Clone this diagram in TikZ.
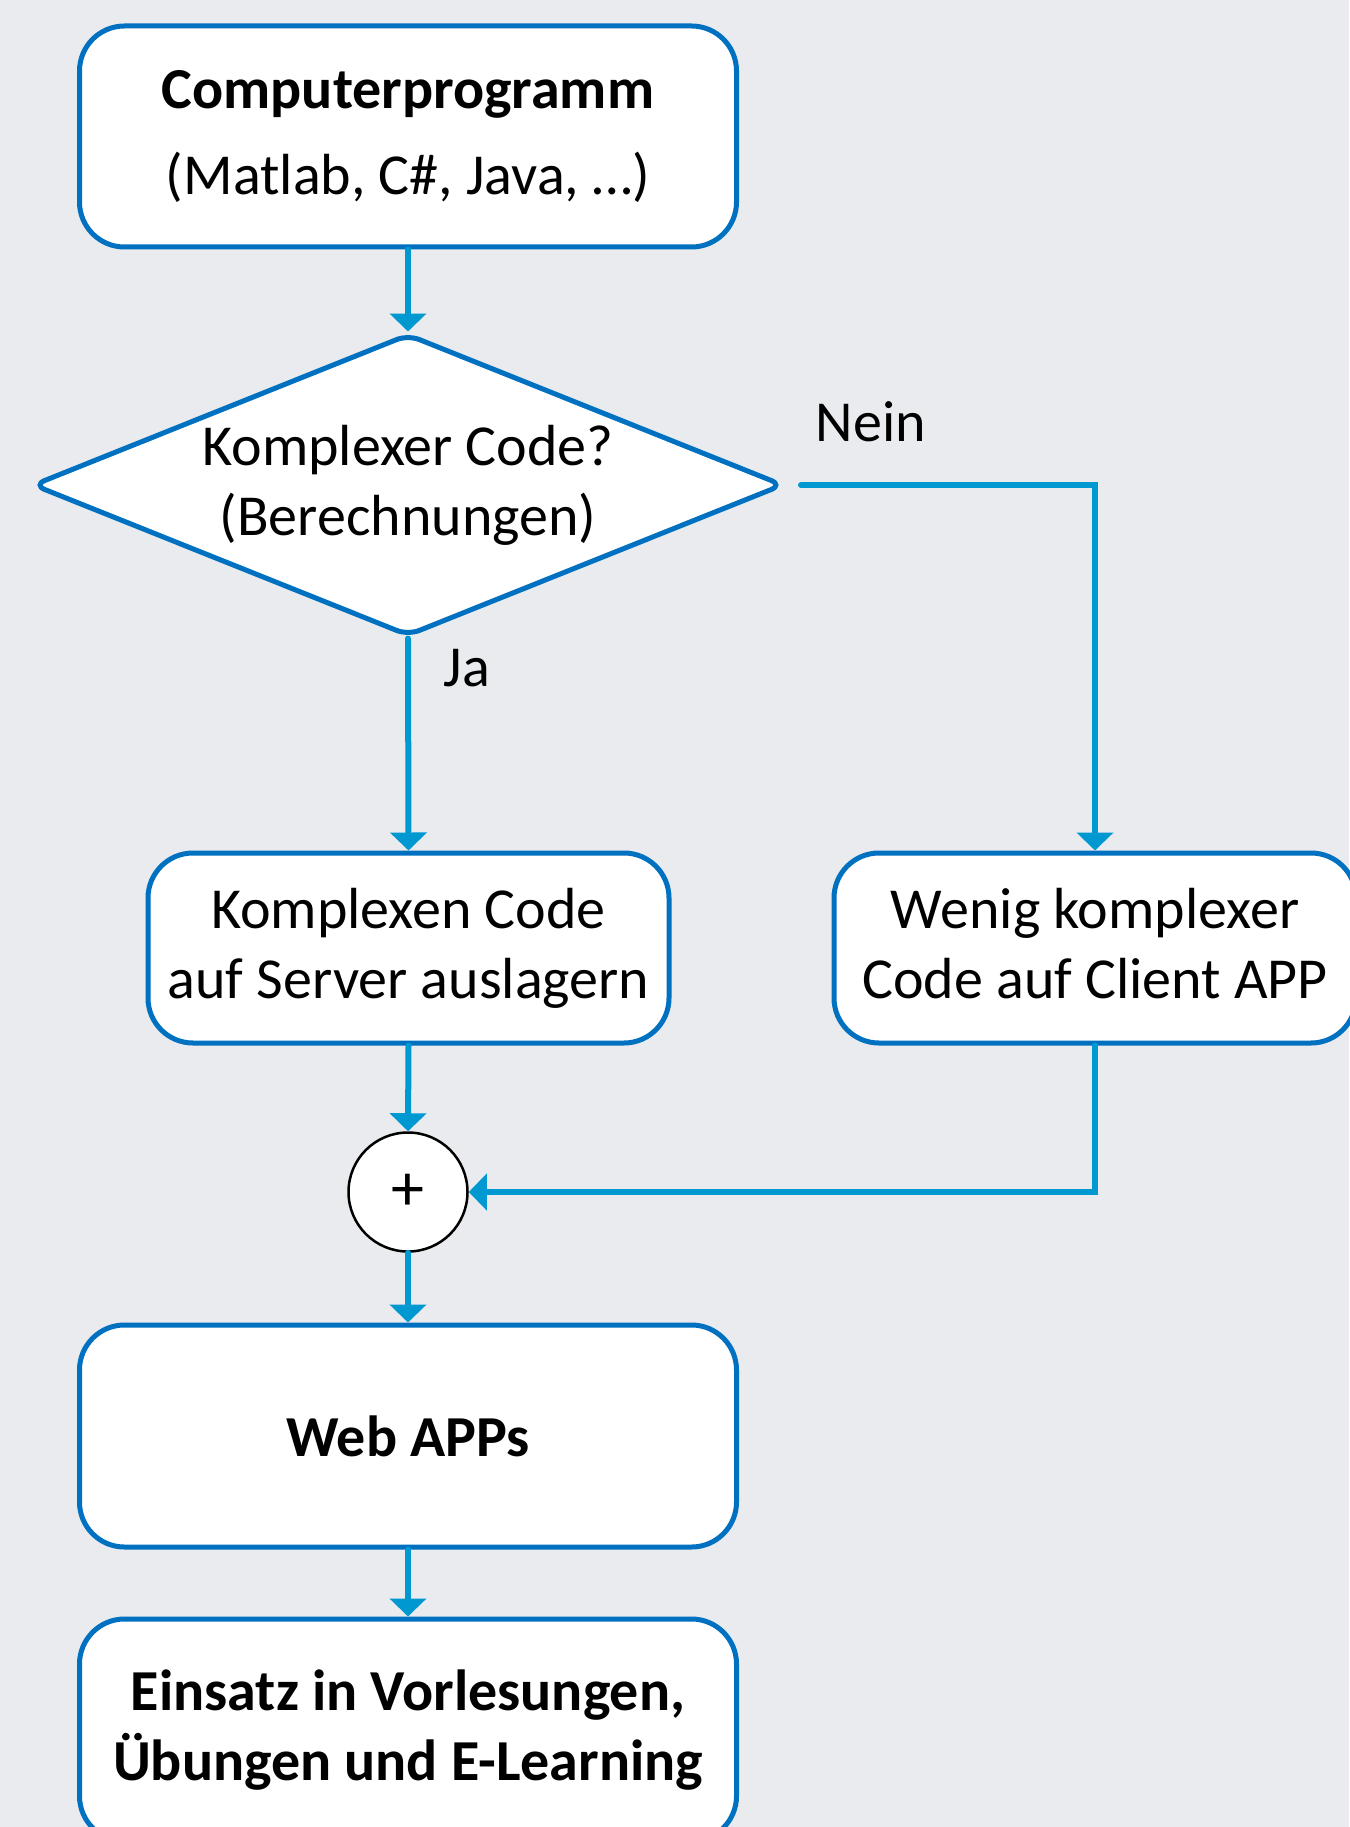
\documentclass[tikz,border=0pt]{standalone}
\usepackage{fontspec}
\setmainfont{Carlito}
\usetikzlibrary{arrows.meta,shapes.geometric}
\definecolor{bg}{RGB}{233,235,238}
\definecolor{boxblue}{RGB}{0,112,192}
\definecolor{conblue}{RGB}{0,152,209}
\tikzset{
  txt/.style={font=\fontsize{58}{70}\selectfont, align=center},
  procbox/.style={txt, draw=boxblue, line width=5pt, fill=white, rectangle, rounded corners=45pt, inner sep=0pt},
  decbox/.style={txt, draw=boxblue, line width=5pt, fill=white, diamond, aspect=2.49, rounded corners=12pt, inner sep=-5pt},
  sumnode/.style={draw=black, line width=2.5pt, fill=white, circle, minimum size=119pt, inner sep=0pt, font=\fontsize{66}{70}\selectfont},
  conn/.style={draw=conblue, line width=6pt, line cap=round, -{Triangle[length=18pt,width=36pt]}},
  lbl/.style={font=\fontsize{58}{70}\selectfont}
}
\begin{document}
\begin{tikzpicture}[x=1pt,y=-1pt]
\useasboundingbox[fill=bg] (0,0) rectangle (1349,1827);
\node[procbox, minimum width=657pt, minimum height=221pt] (b1) at (408,136.5)
  {\textbf{Computerprogramm}\\[16pt](Matlab, C\#, Java, …)};
\node[decbox, minimum width=751pt, minimum height=302pt] (dia) at (408,485)
  {Komplexer Code?\\(Berechnungen)};
\node[procbox, minimum width=521pt, minimum height=190pt] (b2) at (408.5,948)
  {Komplexen Code\\auf Server auslagern};
\node[procbox, minimum width=522pt, minimum height=190pt] (b3) at (1095,948)
  {Wenig komplexer\\Code auf Client APP\vphantom{g}};
\node[sumnode] (plus) at (408,1192) {+};
\node[procbox, minimum width=657pt, minimum height=222pt] (b4) at (408,1436)
  {\textbf{Web APPs}};
\node[procbox, minimum width=657pt, minimum height=222pt] (b5) at (408,1730)
  {\textbf{Einsatz in Vorlesungen,}\\\textbf{Übungen und E-Learning}};
\node[lbl] (nein) at (871,422) {Nein};
\node[lbl] (ja) at (467,668) {Ja};
\coordinate (neinstart) at (801,485);
\draw[conn] (b1.south) -- (dia.north);
\draw[conn] (dia.south) -- (b2.north);
\draw[conn] (neinstart) -| (b3.north);
\draw[conn] (b2.south) -- (plus.north);
\draw[conn] (b3.south) |- (plus.east);
\draw[conn] (plus.south) -- (b4.north);
\draw[conn] (b4.south) -- (b5.north);
\end{tikzpicture}
\end{document}
